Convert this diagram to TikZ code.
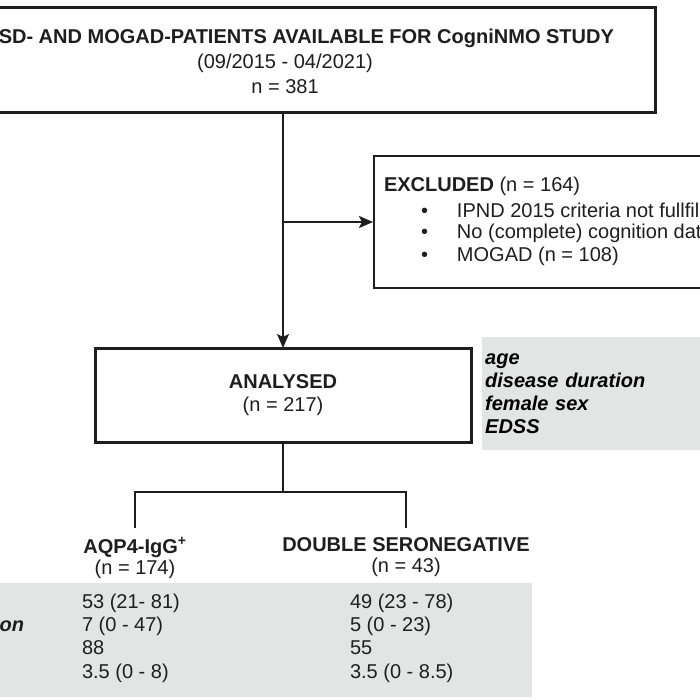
\documentclass[tikz,border=0pt]{standalone}
\usepackage{fontspec}
\setmainfont{Liberation Sans}
\usetikzlibrary{arrows.meta}
\definecolor{ink}{HTML}{1E1E1E}
\definecolor{shade}{HTML}{E3E4E4}
\begin{document}
\begin{tikzpicture}[x=1pt,y=-1pt,
  thickbox/.style={draw=ink, line width=3pt, fill=white, inner sep=0pt},
  thinbox/.style={draw=ink, line width=2pt, fill=white, inner sep=0pt},
  greybox/.style={fill=shade, inner sep=0pt},
  conn/.style={draw=ink, line width=2pt},
  arr/.style={conn, -{Stealth[length=14pt,width=12pt,inset=3pt]}},
  txt/.style={inner sep=0pt, outer sep=0pt, text=ink},
  lbl/.style={txt, font=\fontsize{20}{21}\selectfont, align=center}
]
\useasboundingbox (0,0) rectangle (700,700);
\clip (0,0) rectangle (700,700);
\fill[white] (0,0) rectangle (700,700);

% top box
\node[thickbox, minimum width=744pt, minimum height=105pt] (top) at (283,60.5) {};
\node[txt, font=\bfseries\fontsize{20}{22}\selectfont] (title) at (283,38) {NMOSD- AND MOGAD-PATIENTS AVAILABLE FOR CogniNMO STUDY};
\node[txt, font=\fontsize{20}{22}\selectfont] (period) at (285,63) {(09/2015 - 04/2021)};
\node[txt, font=\fontsize{20}{22}\selectfont] (ntop) at (285,87) {n = 381};

% excluded box
\node[thinbox, anchor=north west, minimum width=420pt, minimum height=132pt] (excl) at (373,155) {};
\node[txt, anchor=west, font=\fontsize{20}{22}\selectfont] (exh) at (384,186) {\textbf{EXCLUDED} (n = 164)};
\node[txt, anchor=west, font=\fontsize{20}{22}\selectfont] (ex1) at (421,210) {\makebox[36pt][l]{•}IPND 2015 criteria not fullfilled};
\node[txt, anchor=west, font=\fontsize{20}{22}\selectfont] (ex2) at (421,233) {\makebox[36pt][l]{•}No (complete) cognition data};
\node[txt, anchor=west, font=\fontsize{20}{22}\selectfont] (ex3) at (421,256) {\makebox[36pt][l]{•}MOGAD (n = 108)};

% analysed
\node[thickbox, minimum width=376pt, minimum height=94pt, lbl, font=\fontsize{20}{23}\selectfont] (an) at (283,395) {\textbf{ANALYSED}\\(n = 217)};

% grey feature box
\node[greybox, anchor=north west, minimum width=300pt, minimum height=113pt, text width=294pt, inner xsep=3pt, align=left, font=\bfseries\itshape\fontsize{20}{23}\selectfont] (feat) at (482,337) {age\\disease duration\\female sex\\EDSS};

% connectors
\coordinate (j) at (top.south |- excl.west);
\draw[conn] (top.south) -- (j);
\draw[arr] (j) -- (excl.west);
\draw[arr] (j) -- (an.north);

% groups
\node[lbl, anchor=north, inner ysep=9.7pt] (aqp) at (135,528) {\textbf{AQP4-IgG\textsuperscript{+}}\\(n = 174)};
\node[lbl, anchor=north, inner ysep=9.7pt] (dsn) at (406,528) {\textbf{DOUBLE SERONEGATIVE}\\(n = 43)};
\coordinate (split) at (an.south |- 0,492);
\draw[conn] (an.south) -- (split);
\draw[conn] (aqp.north) |- (split) -| (dsn.north);

% stats box
\node[greybox, anchor=north west, minimum width=640pt, minimum height=114pt] (stats) at (-108,583) {};
\node[txt, anchor=east, align=left, font=\bfseries\itshape\fontsize{20}{23.3}\selectfont] (vars) at (24,638) {age\\disease duration\\female sex\\EDSS};
\node[txt, anchor=west, align=left, font=\fontsize{20}{23.3}\selectfont] (colA) at (82,638) {53 (21- 81)\\7 (0 - 47)\\88\\3.5 (0 - 8)};
\node[txt, anchor=west, align=left, font=\fontsize{20}{23.3}\selectfont] (colB) at (350,638) {49 (23 - 78)\\5 (0 - 23)\\55\\3.5 (0 - 8.5)};
\end{tikzpicture}
\end{document}
